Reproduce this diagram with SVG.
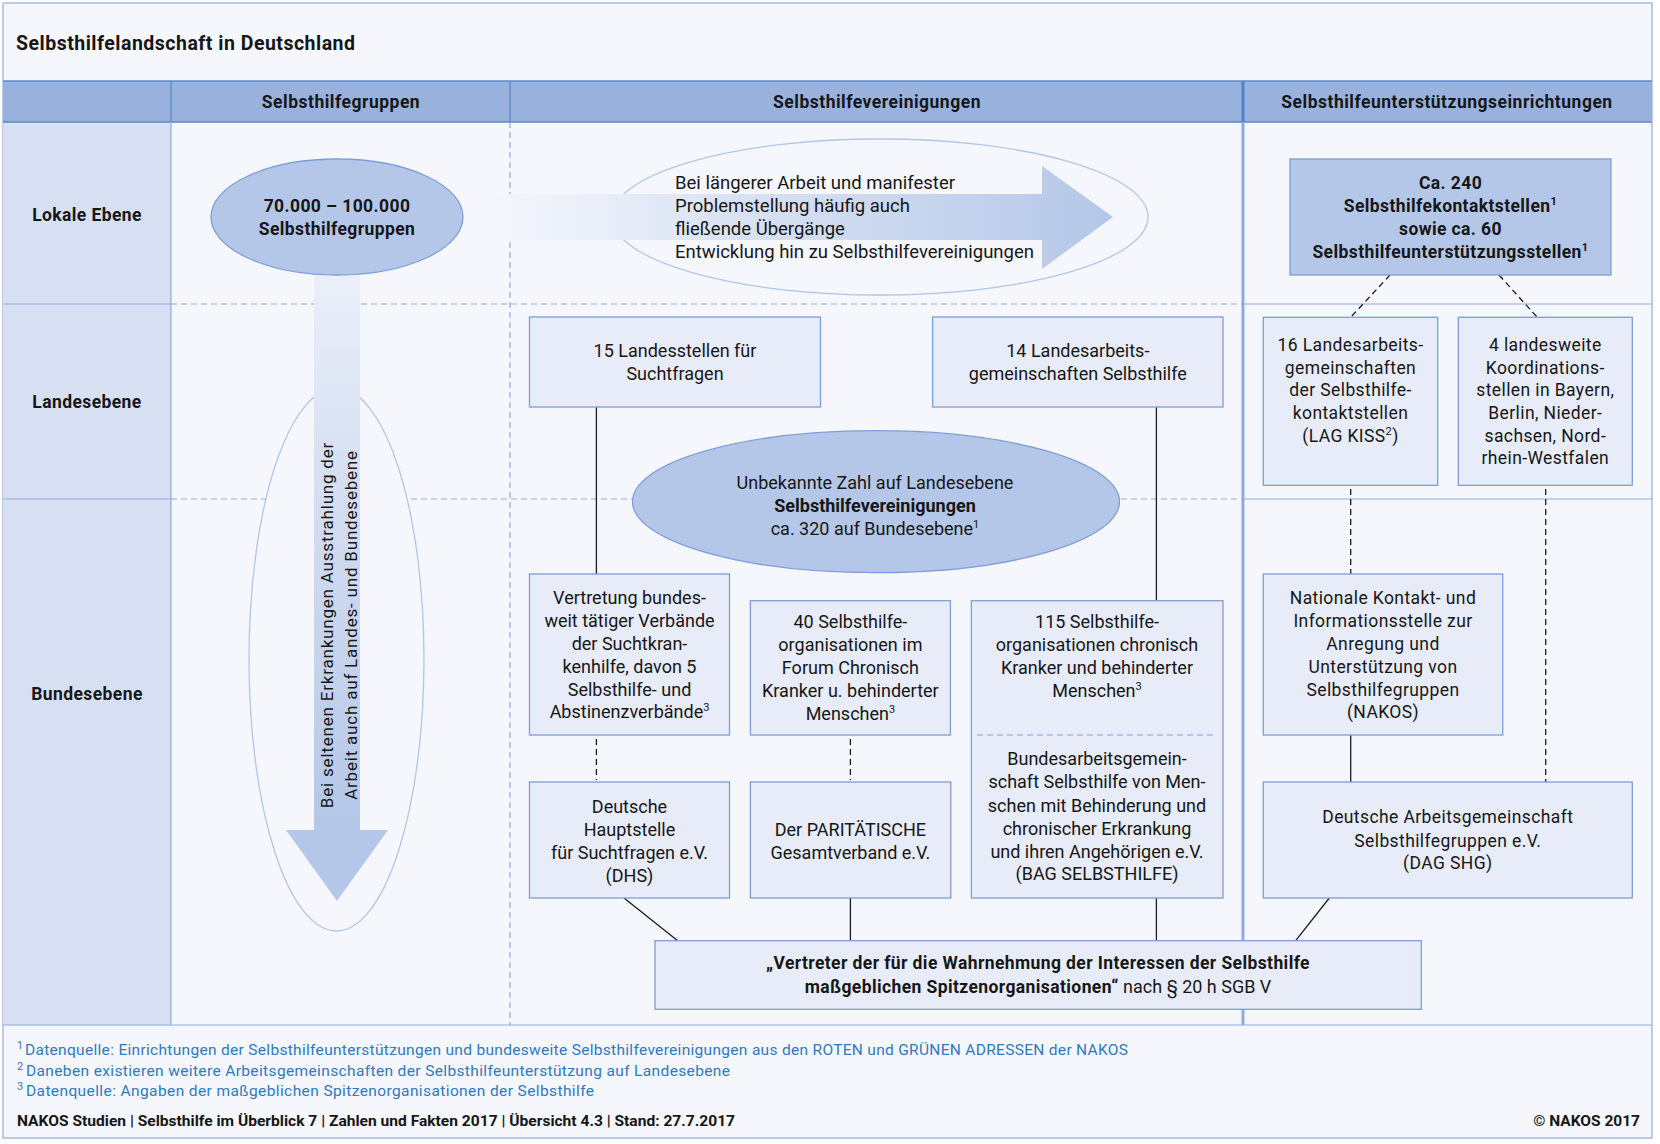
<svg xmlns="http://www.w3.org/2000/svg" width="1660" height="1144" viewBox="0 0 1660 1144">
<defs>
<style>
text{font-family:Roboto,"Liberation Sans",sans-serif;fill:#161616}
.c{font-size:18px;text-anchor:middle}
.w{font-size:17.5px;letter-spacing:0.4px;text-anchor:middle}
.b{font-size:17.5px;font-weight:bold;letter-spacing:0.4px;text-anchor:middle}
.hd{font-size:17.5px;font-weight:bold;letter-spacing:0.5px;text-anchor:middle}
.ar{font-size:18.5px}
.box{fill:#e7ecf8;stroke:#7d9ed8;stroke-width:1.3}
.dark{fill:#b4c7e8;stroke:#7d9ed8;stroke-width:1.3}
.ln{stroke:#1a1a1a;stroke-width:1.3;fill:none}
.dl{stroke:#1a1a1a;stroke-width:1.3;fill:none;stroke-dasharray:6 4}
.grid{stroke:#8fabdd;stroke-width:1.2;fill:none}
.gridd{stroke:#8fabdd;stroke-width:1.2;fill:none;stroke-dasharray:6 4}
.hl{stroke:#5a8ac8;stroke-width:1.3;fill:none}
.fn{font-size:15.5px;fill:#2f7ac0}
.sup{font-size:11px}
</style>
<linearGradient id="gh" gradientUnits="userSpaceOnUse" x1="489" y1="0" x2="1113" y2="0">
<stop offset="0" stop-color="#f5f7fc"/><stop offset="0.4" stop-color="#d9e2f3"/><stop offset="1" stop-color="#b4c7e8"/>
</linearGradient>
<linearGradient id="gv" gradientUnits="userSpaceOnUse" x1="0" y1="158" x2="0" y2="830">
<stop offset="0" stop-color="#f5f7fc"/><stop offset="0.45" stop-color="#d8e1f3"/><stop offset="1" stop-color="#b4c7e8"/>
</linearGradient>
</defs>

<g id="frame">
<rect x="0" y="0" width="1660" height="1144" fill="#ffffff"/>
<rect x="3" y="3" width="1649" height="1135" fill="#f5f7fc" stroke="#9ab1dd" stroke-width="1.3"/>
<rect x="3" y="122" width="168" height="903" fill="#d7e0f2"/>
<rect x="3" y="81" width="1649" height="41" fill="#98b2dd"/>
<line class="hl" x1="3" y1="81" x2="1652" y2="81"/>
<line class="hl" x1="3" y1="122" x2="1652" y2="122"/>
<line class="hl" x1="171" y1="81" x2="171" y2="122"/>
<line class="hl" x1="510" y1="81" x2="510" y2="122"/>
<line x1="1243" y1="81" x2="1243" y2="122" stroke="#4f82c6" stroke-width="3"/>
<line class="grid" x1="171" y1="122" x2="171" y2="1025"/>
<line class="gridd" x1="510" y1="122" x2="510" y2="1025"/>
<line x1="1243" y1="122" x2="1243" y2="1025" stroke="#8fabdd" stroke-width="3"/>
<line class="grid" x1="3" y1="304" x2="171" y2="304"/>
<line class="gridd" x1="171" y1="304" x2="1242" y2="304"/>
<line class="grid" x1="1244" y1="304" x2="1652" y2="304"/>
<line class="grid" x1="3" y1="499" x2="171" y2="499"/>
<line class="gridd" x1="171" y1="499" x2="1242" y2="499"/>
<line class="grid" x1="1244" y1="499" x2="1652" y2="499"/>
<line class="grid" x1="3" y1="1025" x2="1652" y2="1025"/>
<text x="16" y="50" style="font-size:19.5px;font-weight:bold;letter-spacing:0.5px">Selbsthilfelandschaft in Deutschland</text>
<text class="hd" x="341" y="108">Selbsthilfegruppen</text>
<text class="hd" x="877" y="108">Selbsthilfevereinigungen</text>
<text class="hd" x="1447" y="108">Selbsthilfeunterstützungseinrichtungen</text>
<text class="b" x="87" y="221">Lokale Ebene</text>
<text class="b" x="87" y="408">Landesebene</text>
<text class="b" x="87" y="700">Bundesebene</text>
</g>

<g id="vertical-arrow">
<ellipse cx="336.5" cy="659.5" rx="87.5" ry="271.5" fill="#f5f7fc" stroke="#b3c5e9" stroke-width="1.3"/>
<polygon points="314,158 360,158 360,830 388,830 337,901 286,830 314,830" fill="url(#gv)"/>
<g transform="translate(333,625) rotate(-90)">
<text x="0" y="0" style="font-size:17px;letter-spacing:0.8px;text-anchor:middle">Bei seltenen Erkrankungen Ausstrahlung der</text>
</g>
<g transform="translate(356.5,625) rotate(-90)">
<text x="0" y="0" style="font-size:17px;letter-spacing:0.8px;text-anchor:middle">Arbeit auch auf Landes- und Bundesebene</text>
</g>
</g>

<g id="node-shg">
<ellipse class="dark" cx="337" cy="217" rx="126" ry="58"/>
<text class="b" x="337" y="212">70.000 – 100.000</text>
<text class="b" x="337" y="235">Selbsthilfegruppen</text>
</g>

<g id="horizontal-arrow">
<ellipse cx="880" cy="217" rx="268" ry="78" fill="#f5f7fc" stroke="#b3c5e9" stroke-width="1.3"/>
<polygon points="489,194 1042,194 1042,166 1113,217 1042,269 1042,240 489,240" fill="url(#gh)"/>
<text class="ar" x="675" y="189">Bei längerer Arbeit und manifester</text>
<text class="ar" x="675" y="212">Problemstellung häufig auch</text>
<text class="ar" x="675" y="235">fließende Übergänge</text>
<text class="ar" x="675" y="258">Entwicklung hin zu Selbsthilfevereinigungen</text>
</g>

<g id="connectors">
<line class="ln" x1="596.4" y1="407" x2="596.4" y2="574"/>
<line class="ln" x1="1156.4" y1="407" x2="1156.4" y2="600.7"/>
<line class="dl" x1="596.4" y1="739" x2="596.4" y2="780"/>
<line class="dl" x1="850.4" y1="739" x2="850.4" y2="780"/>
<line class="ln" x1="850.4" y1="898" x2="850.4" y2="940.7"/>
<line class="ln" x1="1156.4" y1="898" x2="1156.4" y2="940.7"/>
<line class="ln" x1="624" y1="898" x2="677.7" y2="940.7"/>
<line class="dl" x1="1390" y1="275" x2="1351" y2="317"/>
<line class="dl" x1="1499" y1="275" x2="1537" y2="317"/>
<line class="dl" x1="1350.7" y1="489" x2="1350.7" y2="574"/>
<line class="dl" x1="1545.7" y1="489" x2="1545.7" y2="782"/>
<line class="ln" x1="1350.7" y1="735" x2="1350.7" y2="782"/>
<line class="ln" x1="1329.3" y1="898" x2="1295.7" y2="940.7"/>
</g>

<g id="node-landesstellen">
<rect class="box" x="529.5" y="317" width="291" height="90"/>
<text class="c" x="675" y="357">15 Landesstellen für</text>
<text class="c" x="675" y="380">Suchtfragen</text>
</g>
<g id="node-lag-selbsthilfe">
<rect class="box" x="932.6" y="317" width="290.4" height="90"/>
<text class="c" x="1077.8" y="357">14 Landesarbeits-</text>
<text class="c" x="1077.8" y="380">gemeinschaften Selbsthilfe</text>
</g>
<g id="node-unbekannte">
<ellipse class="dark" cx="876" cy="501.7" rx="243.5" ry="71"/>
<text class="c" x="875" y="489">Unbekannte Zahl auf Landesebene</text>
<text class="c" x="875" y="512" style="font-weight:bold">Selbsthilfevereinigungen</text>
<text class="c" x="875" y="535">ca. 320 auf Bundesebene<tspan class="sup" dy="-7">1</tspan></text>
</g>
<g id="node-vertretung">
<rect class="box" x="529.5" y="574" width="200" height="161"/>
<text class="c" x="629.5" y="604">Vertretung bundes-</text>
<text class="c" x="629.5" y="627">weit tätiger Verbände</text>
<text class="c" x="629.5" y="650">der Suchtkran-</text>
<text class="c" x="629.5" y="673">kenhilfe, davon 5</text>
<text class="c" x="629.5" y="696">Selbsthilfe- und</text>
<text class="c" x="629.5" y="718">Abstinenzverbände<tspan class="sup" dy="-7">3</tspan></text>
</g>
<g id="node-forum">
<rect class="box" x="750.4" y="600.7" width="200" height="134.3"/>
<text class="c" x="850.4" y="628">40 Selbsthilfe-</text>
<text class="c" x="850.4" y="651">organisationen im</text>
<text class="c" x="850.4" y="674">Forum Chronisch</text>
<text class="c" x="850.4" y="697">Kranker u. behinderter</text>
<text class="c" x="850.4" y="720">Menschen<tspan class="sup" dy="-7">3</tspan></text>
</g>
<g id="node-bag">
<rect class="box" x="971.4" y="600.7" width="251.6" height="297.3"/>
<line x1="977" y1="735" x2="1217" y2="735" stroke="#7d9ed8" stroke-width="1.2" stroke-dasharray="6 4"/>
<text class="c" x="1097" y="628">115 Selbsthilfe-</text>
<text class="c" x="1097" y="651">organisationen chronisch</text>
<text class="c" x="1097" y="674">Kranker und behinderter</text>
<text class="c" x="1097" y="697">Menschen<tspan class="sup" dy="-7">3</tspan></text>
<text class="c" x="1097" y="765">Bundesarbeitsgemein-</text>
<text class="c" x="1097" y="788">schaft Selbsthilfe von Men-</text>
<text class="c" x="1097" y="811.5">schen mit Behinderung und</text>
<text class="c" x="1097" y="834.5">chronischer Erkrankung</text>
<text class="c" x="1097" y="857.5">und ihren Angehörigen e.V.</text>
<text class="c" x="1097" y="880">(BAG SELBSTHILFE)</text>
</g>
<g id="node-dhs">
<rect class="box" x="529.5" y="782" width="200" height="116"/>
<text class="c" x="629.5" y="813">Deutsche</text>
<text class="c" x="629.5" y="836">Hauptstelle</text>
<text class="c" x="629.5" y="859">für Suchtfragen e.V.</text>
<text class="c" x="629.5" y="882">(DHS)</text>
</g>
<g id="node-paritaetische">
<rect class="box" x="750.4" y="782" width="200.4" height="116"/>
<text class="c" x="850.4" y="836">Der PARITÄTISCHE</text>
<text class="c" x="850.4" y="859">Gesamtverband e.V.</text>
</g>
<g id="node-vertreter">
<rect class="box" x="655" y="940.7" width="766.3" height="68.6"/>
<text class="b" x="1038" y="969">„Vertreter der für die Wahrnehmung der Interessen der Selbsthilfe</text>
<text x="1038" y="993" style="font-size:17.5px;text-anchor:middle"><tspan style="font-weight:bold;letter-spacing:0.4px">maßgeblichen Spitzenorganisationen“</tspan><tspan style="font-size:18px"> nach § 20 h SGB V</tspan></text>
</g>

<g id="node-kontaktstellen">
<rect class="dark" x="1290" y="159" width="321" height="116"/>
<text class="b" x="1450.5" y="189">Ca. 240</text>
<text class="b" x="1450.5" y="212">Selbsthilfekontaktstellen<tspan class="sup" dy="-7">1</tspan></text>
<text class="b" x="1450.5" y="235">sowie ca. 60</text>
<text class="b" x="1450.5" y="258">Selbsthilfeunterstützungsstellen<tspan class="sup" dy="-7">1</tspan></text>
</g>
<g id="node-lag-kiss">
<rect class="box" x="1263.3" y="317.3" width="174.4" height="168"/>
<text class="w" x="1350.5" y="350.7">16 Landesarbeits-</text>
<text class="w" x="1350.5" y="373.5">gemeinschaften</text>
<text class="w" x="1350.5" y="396.2">der Selbsthilfe-</text>
<text class="w" x="1350.5" y="419">kontaktstellen</text>
<text class="w" x="1350.5" y="441.7">(LAG KISS<tspan class="sup" dy="-7">2</tspan><tspan dy="7">)</tspan></text>
</g>
<g id="node-koordination">
<rect class="box" x="1458.3" y="317.3" width="174" height="168"/>
<text class="w" x="1545.3" y="350.7">4 landesweite</text>
<text class="w" x="1545.3" y="373.5">Koordinations-</text>
<text class="w" x="1545.3" y="396.2">stellen in Bayern,</text>
<text class="w" x="1545.3" y="419">Berlin, Nieder-</text>
<text class="w" x="1545.3" y="441.7">sachsen, Nord-</text>
<text class="w" x="1545.3" y="464.4">rhein-Westfalen</text>
</g>
<g id="node-nakos">
<rect class="box" x="1263.3" y="574" width="239.4" height="161"/>
<text class="w" x="1383" y="604">Nationale Kontakt- und</text>
<text class="w" x="1383" y="627">Informationsstelle zur</text>
<text class="w" x="1383" y="650">Anregung und</text>
<text class="w" x="1383" y="672.7">Unterstützung von</text>
<text class="w" x="1383" y="695.5">Selbsthilfegruppen</text>
<text class="w" x="1383" y="718">(NAKOS)</text>
</g>
<g id="node-dag-shg">
<rect class="box" x="1263.3" y="782" width="369" height="116"/>
<text class="w" x="1447.8" y="823.3">Deutsche Arbeitsgemeinschaft</text>
<text class="w" x="1447.8" y="846.5">Selbsthilfegruppen e.V.</text>
<text class="w" x="1447.8" y="869.3">(DAG SHG)</text>
</g>

<g id="footer">
<text class="fn" x="17" y="1049" style="font-size:11px">1</text>
<text class="fn" x="25" y="1055" textLength="1103" lengthAdjust="spacing">Datenquelle: Einrichtungen der Selbsthilfeunterstützungen und bundesweite Selbsthilfevereinigungen aus den ROTEN und GRÜNEN ADRESSEN der NAKOS</text>
<text class="fn" x="17" y="1070" style="font-size:11px">2</text>
<text class="fn" x="26" y="1076" textLength="704" lengthAdjust="spacing">Daneben existieren weitere Arbeitsgemeinschaften der Selbsthilfeunterstützung auf Landesebene</text>
<text class="fn" x="17" y="1090" style="font-size:11px">3</text>
<text class="fn" x="26" y="1096" textLength="568" lengthAdjust="spacing">Datenquelle: Angaben der maßgeblichen Spitzenorganisationen der Selbsthilfe</text>
<text x="17" y="1126" style="font-size:15.5px;font-weight:bold" textLength="718" lengthAdjust="spacingAndGlyphs">NAKOS Studien | Selbsthilfe im Überblick 7 | Zahlen und Fakten 2017 | Übersicht 4.3 | Stand: 27.7.2017</text>
<text x="1640" y="1126" style="font-size:15.5px;font-weight:bold;text-anchor:end">© NAKOS 2017</text>
</g>
</svg>
